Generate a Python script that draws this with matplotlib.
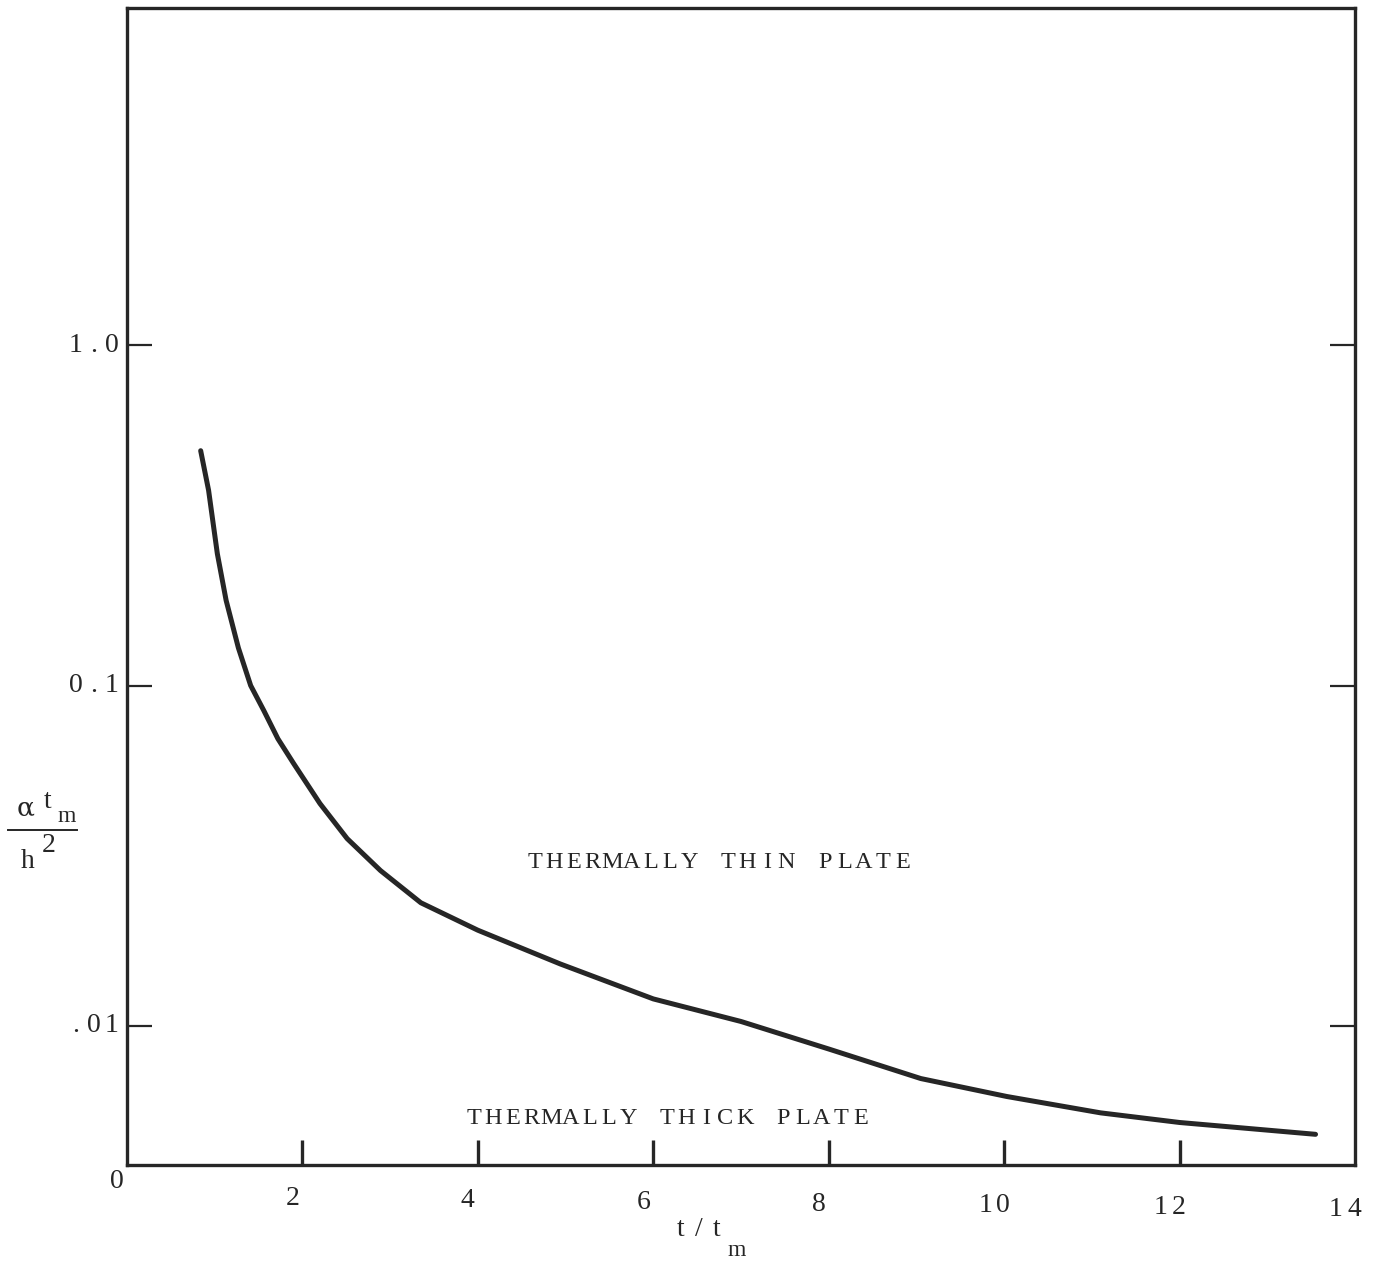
import matplotlib

matplotlib.use("Agg")
import matplotlib.pyplot as plt
from matplotlib.lines import Line2D

# curve: t/t_m vs alpha*t_m/h^2
t_ratio = [0.84, 0.93, 1.03, 1.13, 1.27, 1.41, 1.56, 1.72, 1.9, 2.2, 2.51, 2.89, 3.35, 4.0,
           4.94, 6.0, 7.0, 8.0, 9.05, 10.03, 11.1, 12.0, 13.55]
alpha_ratio = [0.49, 0.375, 0.244, 0.178, 0.129, 0.100, 0.0844, 0.0698, 0.059, 0.045, 0.0355,
               0.0286, 0.0230, 0.0191, 0.0152, 0.0120, 0.0103, 0.00855, 0.0070, 0.0062,
               0.00555, 0.0052, 0.0048]

x_ticks = [2, 4, 6, 8, 10, 12]
x_tick_labels = ["2", "4", "6", "8", "10", "12"]
y_ticks = [1.0, 0.1, 0.01]
y_tick_labels = ["1.0", "0.1", ".01"]

W, H = 1384, 1263
INK = "#262626"
TYPE = "Liberation Serif"

fig = plt.figure(figsize=(W / 100, H / 100), dpi=100)
ax = fig.add_axes([127 / W, 1 - 1165 / H, (1355 - 127) / W, (1165 - 8) / H])
ax.set_yscale("log")
ax.set_xlim(0, 14)
ax.set_ylim(0.0039, 9.8)

ax.plot(t_ratio, alpha_ratio, color=INK, lw=3.6, solid_capstyle="round", solid_joinstyle="round")

for side in ax.spines.values():
    side.set_linewidth(2.4)
    side.set_color(INK)

ax.set_xticks(x_ticks)
ax.set_xticklabels([])
ax.set_yticks(y_ticks)
ax.set_yticklabels([])
ax.yaxis.set_minor_locator(matplotlib.ticker.NullLocator())
ax.tick_params(axis="x", direction="in", length=18, width=2.4, color=INK, top=False)
ax.tick_params(axis="y", direction="in", length=18, width=1.6, color=INK, right=True)


def spaced(x, y, s, pitch, size, family=TYPE):
    # typewriter-like text: one glyph per fixed pitch, x is left edge in pixels
    for i, ch in enumerate(s):
        if ch == " ":
            continue
        fig.text((x + (i + 0.5) * pitch) / W, 1 - y / H, ch, family=family, fontsize=size,
                 color=INK, ha="center", va="center")


# y tick labels (right aligned at the axis)
for val, lab in zip(y_ticks, y_tick_labels):
    px, py = ax.transData.transform((0, val))
    spaced(px - 6 - 18 * len(lab), H - py, lab, 18, 20)

# x tick labels
for val, lab in zip(x_ticks + [14], x_tick_labels + ["14"]):
    px, _ = ax.transData.transform((val, 0.01))
    spaced(px - 10 - 9 * len(lab), 1197 + val * 0.9, lab, 18, 20)
spaced(108, 1182, "0", 18, 20)

# plate labels
spaced(525, 862, "THERMALLY THIN PLATE", 19.35, 17.5)
spaced(464, 1118, "THERMALLY THICK PLATE", 19.35, 17.5)

# y axis label: alpha t_m / h^2
fig.text(26 / W, 1 - 808 / H, "α", family="DejaVu Serif", fontsize=19, color=INK, ha="center", va="center")
fig.text(48 / W, 1 - 802 / H, "t", family=TYPE, fontsize=20, color=INK, ha="center", va="center")
fig.text(67 / W, 1 - 816 / H, "m", family=TYPE, fontsize=17, color=INK, ha="center", va="center")
fig.add_artist(Line2D([8 / W, 77 / W], [1 - 830 / H, 1 - 830 / H], color=INK, lw=1.4))
fig.text(28 / W, 1 - 862 / H, "h", family=TYPE, fontsize=20, color=INK, ha="center", va="center")
fig.text(49 / W, 1 - 846 / H, "2", family=TYPE, fontsize=20, color=INK, ha="center", va="center")

# x axis label: t / t_m
spaced(672, 1230, "t/t", 18, 20)
fig.text(737 / W, 1 - 1250 / H, "m", family=TYPE, fontsize=17, color=INK, ha="center", va="center")

fig.savefig("out.png", dpi=100, facecolor="white")
